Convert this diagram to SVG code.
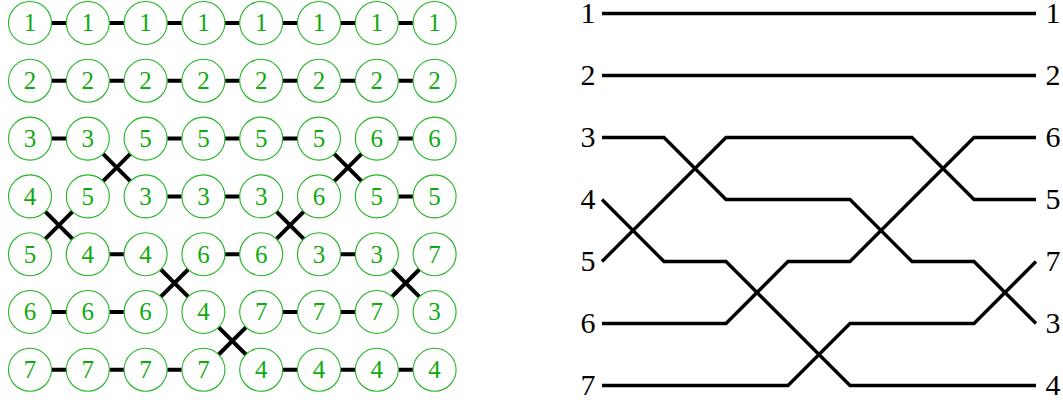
<svg xmlns="http://www.w3.org/2000/svg" width="1063" height="400" viewBox="0 0 1063 400">
<style>
.c{fill:#fff;stroke:#22b522;stroke-width:1.1}
.t{font-family:"Liberation Serif","DejaVu Serif",serif;font-size:25px;fill:#10aa10;text-anchor:middle}
.k{stroke:#000;stroke-width:4;fill:none}
.w{stroke:#000;stroke-width:3.4;fill:none;stroke-linejoin:miter}
.lbl{font-family:"Liberation Serif","DejaVu Serif",serif;font-size:30px;fill:#000;text-anchor:middle}
</style>
<defs>
<circle id="cc" r="21.5" class="c"/>
</defs>
<g id="connectors">
<path class="k" d="M51.7 23H66.1M109.5 23H123.9M167.3 23H181.7M225.1 23H239.5M282.9 23H297.3M340.7 23H355.1M398.5 23H412.9
M51.7 80.8H66.1M109.5 80.8H123.9M167.3 80.8H181.7M225.1 80.8H239.5M282.9 80.8H297.3M340.7 80.8H355.1M398.5 80.8H412.9
M51.7 138.6H66.1M167.3 138.6H181.7M225.1 138.6H239.5M282.9 138.6H297.3M398.5 138.6H412.9
M167.3 196.4H181.7M225.1 196.4H239.5M398.5 196.4H412.9
M109.5 254.2H123.9M225.1 254.2H239.5M340.7 254.2H355.1
M51.7 312H66.1M109.5 312H123.9M282.9 312H297.3M340.7 312H355.1
M51.7 369.8H66.1M109.5 369.8H123.9M167.3 369.8H181.7M282.9 369.8H297.3M340.7 369.8H355.1M398.5 369.8H412.9"/>
<path class="k" d="M103.1 153.9l27.2 27.2M130.3 153.9l-27.2 27.2
M45.3 211.7l27.2 27.2M72.5 211.7l-27.2 27.2
M334.3 153.9l27.2 27.2M361.5 153.9l-27.2 27.2
M276.5 211.7l27.2 27.2M303.7 211.7l-27.2 27.2
M160.9 269.5l27.2 27.2M188.1 269.5l-27.2 27.2
M218.7 327.3l27.2 27.2M245.9 327.3l-27.2 27.2
M392.1 269.5l27.2 27.2M419.3 269.5l-27.2 27.2"/>
<g id="wires">
<path class="w" d="M602 13.5H1036"/>
<path class="w" d="M602 75.5H1036"/>
<path class="w" d="M602 137.5L664 137.5L726 199.5L850 199.5L912 261.5L974 261.5L1036 323.5"/>
<path class="w" d="M602 199.5L664 261.5L726 261.5L850 385.5L1036 385.5"/>
<path class="w" d="M602 261.5L726 137.5L912 137.5L974 199.5L1036 199.5"/>
<path class="w" d="M602 323.5L726 323.5L788 261.5L850 261.5L974 137.5L1036 137.5"/>
<path class="w" d="M602 385.5L788 385.5L850 323.5L974 323.5L1036 261.5"/>
</g>
</g>
<g id="grid">
<g id="r1c1"><use href="#cc" x="30" y="23"/><text class="t" x="30" y="31.3">1</text></g>
<g id="r1c2"><use href="#cc" x="87.8" y="23"/><text class="t" x="87.8" y="31.3">1</text></g>
<g id="r1c3"><use href="#cc" x="145.6" y="23"/><text class="t" x="145.6" y="31.3">1</text></g>
<g id="r1c4"><use href="#cc" x="203.4" y="23"/><text class="t" x="203.4" y="31.3">1</text></g>
<g id="r1c5"><use href="#cc" x="261.2" y="23"/><text class="t" x="261.2" y="31.3">1</text></g>
<g id="r1c6"><use href="#cc" x="319" y="23"/><text class="t" x="319" y="31.3">1</text></g>
<g id="r1c7"><use href="#cc" x="376.8" y="23"/><text class="t" x="376.8" y="31.3">1</text></g>
<g id="r1c8"><use href="#cc" x="434.6" y="23"/><text class="t" x="434.6" y="31.3">1</text></g>

<g id="r2c1"><use href="#cc" x="30" y="80.8"/><text class="t" x="30" y="89.1">2</text></g>
<g id="r2c2"><use href="#cc" x="87.8" y="80.8"/><text class="t" x="87.8" y="89.1">2</text></g>
<g id="r2c3"><use href="#cc" x="145.6" y="80.8"/><text class="t" x="145.6" y="89.1">2</text></g>
<g id="r2c4"><use href="#cc" x="203.4" y="80.8"/><text class="t" x="203.4" y="89.1">2</text></g>
<g id="r2c5"><use href="#cc" x="261.2" y="80.8"/><text class="t" x="261.2" y="89.1">2</text></g>
<g id="r2c6"><use href="#cc" x="319" y="80.8"/><text class="t" x="319" y="89.1">2</text></g>
<g id="r2c7"><use href="#cc" x="376.8" y="80.8"/><text class="t" x="376.8" y="89.1">2</text></g>
<g id="r2c8"><use href="#cc" x="434.6" y="80.8"/><text class="t" x="434.6" y="89.1">2</text></g>

<g id="r3c1"><use href="#cc" x="30" y="138.6"/><text class="t" x="30" y="146.9">3</text></g>
<g id="r3c2"><use href="#cc" x="87.8" y="138.6"/><text class="t" x="87.8" y="146.9">3</text></g>
<g id="r3c3"><use href="#cc" x="145.6" y="138.6"/><text class="t" x="145.6" y="146.9">5</text></g>
<g id="r3c4"><use href="#cc" x="203.4" y="138.6"/><text class="t" x="203.4" y="146.9">5</text></g>
<g id="r3c5"><use href="#cc" x="261.2" y="138.6"/><text class="t" x="261.2" y="146.9">5</text></g>
<g id="r3c6"><use href="#cc" x="319" y="138.6"/><text class="t" x="319" y="146.9">5</text></g>
<g id="r3c7"><use href="#cc" x="376.8" y="138.6"/><text class="t" x="376.8" y="146.9">6</text></g>
<g id="r3c8"><use href="#cc" x="434.6" y="138.6"/><text class="t" x="434.6" y="146.9">6</text></g>

<g id="r4c1"><use href="#cc" x="30" y="196.4"/><text class="t" x="30" y="204.7">4</text></g>
<g id="r4c2"><use href="#cc" x="87.8" y="196.4"/><text class="t" x="87.8" y="204.7">5</text></g>
<g id="r4c3"><use href="#cc" x="145.6" y="196.4"/><text class="t" x="145.6" y="204.7">3</text></g>
<g id="r4c4"><use href="#cc" x="203.4" y="196.4"/><text class="t" x="203.4" y="204.7">3</text></g>
<g id="r4c5"><use href="#cc" x="261.2" y="196.4"/><text class="t" x="261.2" y="204.7">3</text></g>
<g id="r4c6"><use href="#cc" x="319" y="196.4"/><text class="t" x="319" y="204.7">6</text></g>
<g id="r4c7"><use href="#cc" x="376.8" y="196.4"/><text class="t" x="376.8" y="204.7">5</text></g>
<g id="r4c8"><use href="#cc" x="434.6" y="196.4"/><text class="t" x="434.6" y="204.7">5</text></g>

<g id="r5c1"><use href="#cc" x="30" y="254.2"/><text class="t" x="30" y="262.5">5</text></g>
<g id="r5c2"><use href="#cc" x="87.8" y="254.2"/><text class="t" x="87.8" y="262.5">4</text></g>
<g id="r5c3"><use href="#cc" x="145.6" y="254.2"/><text class="t" x="145.6" y="262.5">4</text></g>
<g id="r5c4"><use href="#cc" x="203.4" y="254.2"/><text class="t" x="203.4" y="262.5">6</text></g>
<g id="r5c5"><use href="#cc" x="261.2" y="254.2"/><text class="t" x="261.2" y="262.5">6</text></g>
<g id="r5c6"><use href="#cc" x="319" y="254.2"/><text class="t" x="319" y="262.5">3</text></g>
<g id="r5c7"><use href="#cc" x="376.8" y="254.2"/><text class="t" x="376.8" y="262.5">3</text></g>
<g id="r5c8"><use href="#cc" x="434.6" y="254.2"/><text class="t" x="434.6" y="262.5">7</text></g>

<g id="r6c1"><use href="#cc" x="30" y="312"/><text class="t" x="30" y="320.3">6</text></g>
<g id="r6c2"><use href="#cc" x="87.8" y="312"/><text class="t" x="87.8" y="320.3">6</text></g>
<g id="r6c3"><use href="#cc" x="145.6" y="312"/><text class="t" x="145.6" y="320.3">6</text></g>
<g id="r6c4"><use href="#cc" x="203.4" y="312"/><text class="t" x="203.4" y="320.3">4</text></g>
<g id="r6c5"><use href="#cc" x="261.2" y="312"/><text class="t" x="261.2" y="320.3">7</text></g>
<g id="r6c6"><use href="#cc" x="319" y="312"/><text class="t" x="319" y="320.3">7</text></g>
<g id="r6c7"><use href="#cc" x="376.8" y="312"/><text class="t" x="376.8" y="320.3">7</text></g>
<g id="r6c8"><use href="#cc" x="434.6" y="312"/><text class="t" x="434.6" y="320.3">3</text></g>

<g id="r7c1"><use href="#cc" x="30" y="369.8"/><text class="t" x="30" y="378.1">7</text></g>
<g id="r7c2"><use href="#cc" x="87.8" y="369.8"/><text class="t" x="87.8" y="378.1">7</text></g>
<g id="r7c3"><use href="#cc" x="145.6" y="369.8"/><text class="t" x="145.6" y="378.1">7</text></g>
<g id="r7c4"><use href="#cc" x="203.4" y="369.8"/><text class="t" x="203.4" y="378.1">7</text></g>
<g id="r7c5"><use href="#cc" x="261.2" y="369.8"/><text class="t" x="261.2" y="378.1">4</text></g>
<g id="r7c6"><use href="#cc" x="319" y="369.8"/><text class="t" x="319" y="378.1">4</text></g>
<g id="r7c7"><use href="#cc" x="376.8" y="369.8"/><text class="t" x="376.8" y="378.1">4</text></g>
<g id="r7c8"><use href="#cc" x="434.6" y="369.8"/><text class="t" x="434.6" y="378.1">4</text></g>
</g>
<g id="labels-left">
<g id="in1"><text class="lbl" x="588" y="23">1</text></g>
<g id="in2"><text class="lbl" x="588" y="85">2</text></g>
<g id="in3"><text class="lbl" x="588" y="147">3</text></g>
<g id="in4"><text class="lbl" x="588" y="209">4</text></g>
<g id="in5"><text class="lbl" x="588" y="271">5</text></g>
<g id="in6"><text class="lbl" x="588" y="333">6</text></g>
<g id="in7"><text class="lbl" x="588" y="395">7</text></g>
</g>
<g id="labels-right">
<g id="out1"><text class="lbl" x="1053" y="23">1</text></g>
<g id="out2"><text class="lbl" x="1053" y="85">2</text></g>
<g id="out3"><text class="lbl" x="1053" y="147">6</text></g>
<g id="out4"><text class="lbl" x="1053" y="209">5</text></g>
<g id="out5"><text class="lbl" x="1053" y="271">7</text></g>
<g id="out6"><text class="lbl" x="1053" y="333">3</text></g>
<g id="out7"><text class="lbl" x="1053" y="395">4</text></g>
</g>
</svg>
